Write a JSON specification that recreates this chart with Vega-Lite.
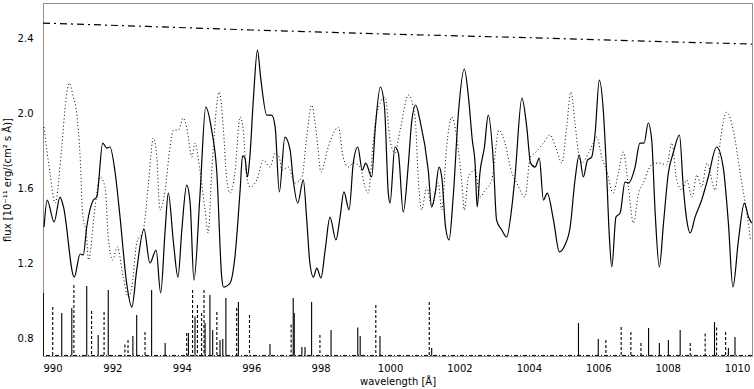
{
  "$schema": "https://vega.github.io/schema/vega-lite/v6.json",
  "width": 709,
  "height": 353,
  "autosize": {"type": "none"},
  "padding": {"left": 43, "top": 3, "right": 2, "bottom": 33},
  "background": "white",
  "config": {
    "view": {"stroke": "#222", "strokeWidth": 1, "strokeDash": [1, 1]},
    "font": "DejaVu Sans",
    "axis": {"domain": false, "ticks": false, "grid": false, "labelColor": "#000", "titleColor": "#000", "labelFontSize": 10, "titleFontSize": 10, "titleFontWeight": "normal"}
  },
  "datasets": {
    "obs": [
      {"x":990.03,"y":1.392},{"x":990.12,"y":1.536},{"x":990.32,"y":1.419},{"x":990.49,"y":1.552},{"x":990.59,"y":1.499},{"x":990.90,"y":1.125},{"x":991.07,"y":1.248},{"x":991.16,"y":1.243},{"x":991.26,"y":1.392},{"x":991.45,"y":1.536},{"x":991.55,"y":1.552},{"x":991.72,"y":1.840},{"x":991.84,"y":1.813},{"x":991.93,"y":1.819},{"x":992.08,"y":1.680},{"x":992.22,"y":1.445},{"x":992.41,"y":1.093},{"x":992.56,"y":0.965},{"x":992.70,"y":1.163},{"x":992.91,"y":1.381},{"x":993.08,"y":1.200},{"x":993.26,"y":1.269},{"x":993.39,"y":1.040},{"x":993.52,"y":1.376},{"x":993.61,"y":1.573},{"x":993.76,"y":1.307},{"x":993.89,"y":1.125},{"x":994.00,"y":1.376},{"x":994.14,"y":1.616},{"x":994.24,"y":1.520},{"x":994.35,"y":1.109},{"x":994.52,"y":1.552},{"x":994.69,"y":2.032},{"x":994.86,"y":1.909},{"x":995.01,"y":1.680},{"x":995.15,"y":1.125},{"x":995.20,"y":1.072},{"x":995.39,"y":1.093},{"x":995.53,"y":1.232},{"x":995.68,"y":1.589},{"x":995.75,"y":1.771},{"x":995.82,"y":1.760},{"x":995.89,"y":1.659},{"x":995.96,"y":1.765},{"x":996.06,"y":2.069},{"x":996.18,"y":2.336},{"x":996.27,"y":2.192},{"x":996.45,"y":1.989},{"x":996.59,"y":1.989},{"x":996.69,"y":1.925},{"x":996.81,"y":1.579},{"x":996.97,"y":1.872},{"x":997.12,"y":1.803},{"x":997.21,"y":1.643},{"x":997.34,"y":1.520},{"x":997.50,"y":1.643},{"x":997.60,"y":1.429},{"x":997.69,"y":1.200},{"x":997.79,"y":1.125},{"x":997.89,"y":1.173},{"x":998.01,"y":1.120},{"x":998.13,"y":1.269},{"x":998.27,"y":1.445},{"x":998.44,"y":1.323},{"x":998.56,"y":1.445},{"x":998.67,"y":1.579},{"x":998.82,"y":1.483},{"x":998.94,"y":1.733},{"x":999.07,"y":1.819},{"x":999.20,"y":1.696},{"x":999.30,"y":1.733},{"x":999.47,"y":1.659},{"x":999.57,"y":1.909},{"x":999.72,"y":2.139},{"x":999.84,"y":2.032},{"x":999.95,"y":1.573},{"x":1000.00,"y":1.520},{"x":1000.14,"y":1.819},{"x":1000.24,"y":1.787},{"x":1000.38,"y":1.472},{"x":1000.53,"y":1.733},{"x":1000.62,"y":1.947},{"x":1000.74,"y":2.043},{"x":1000.86,"y":1.963},{"x":1001.10,"y":1.696},{"x":1001.20,"y":1.499},{"x":1001.30,"y":1.573},{"x":1001.41,"y":1.712},{"x":1001.49,"y":1.659},{"x":1001.60,"y":1.392},{"x":1001.70,"y":1.323},{"x":1001.82,"y":1.552},{"x":1001.97,"y":2.000},{"x":1002.14,"y":2.235},{"x":1002.26,"y":2.085},{"x":1002.37,"y":1.856},{"x":1002.45,"y":1.733},{"x":1002.51,"y":1.499},{"x":1002.59,"y":1.680},{"x":1002.72,"y":1.819},{"x":1002.83,"y":1.989},{"x":1002.98,"y":1.733},{"x":1003.07,"y":1.429},{"x":1003.22,"y":1.376},{"x":1003.36,"y":1.339},{"x":1003.51,"y":1.499},{"x":1003.60,"y":1.659},{"x":1003.80,"y":2.080},{"x":1003.94,"y":1.925},{"x":1004.05,"y":1.733},{"x":1004.18,"y":1.712},{"x":1004.30,"y":1.760},{"x":1004.42,"y":1.536},{"x":1004.53,"y":1.573},{"x":1004.71,"y":1.429},{"x":1004.88,"y":1.259},{"x":1005.04,"y":1.296},{"x":1005.19,"y":1.392},{"x":1005.33,"y":1.643},{"x":1005.45,"y":1.776},{"x":1005.57,"y":1.659},{"x":1005.69,"y":1.749},{"x":1005.81,"y":1.765},{"x":1005.91,"y":1.893},{"x":1006.03,"y":2.176},{"x":1006.15,"y":2.000},{"x":1006.24,"y":1.680},{"x":1006.32,"y":1.339},{"x":1006.39,"y":1.179},{"x":1006.51,"y":1.445},{"x":1006.63,"y":1.467},{"x":1006.77,"y":1.632},{"x":1006.87,"y":1.627},{"x":1007.06,"y":1.712},{"x":1007.20,"y":1.840},{"x":1007.32,"y":1.840},{"x":1007.44,"y":1.947},{"x":1007.54,"y":1.856},{"x":1007.64,"y":1.467},{"x":1007.76,"y":1.179},{"x":1007.88,"y":1.413},{"x":1008.02,"y":1.680},{"x":1008.16,"y":1.787},{"x":1008.34,"y":1.883},{"x":1008.45,"y":1.605},{"x":1008.55,"y":1.429},{"x":1008.65,"y":1.360},{"x":1008.79,"y":1.445},{"x":1008.98,"y":1.536},{"x":1009.17,"y":1.659},{"x":1009.41,"y":1.819},{"x":1009.60,"y":1.712},{"x":1009.75,"y":1.413},{"x":1009.88,"y":1.072},{"x":1010.04,"y":1.323},{"x":1010.21,"y":1.520},{"x":1010.33,"y":1.445},{"x":1010.42,"y":1.413}
    ],
    "mod": [
      {"x":990.03,"y":1.925},{"x":990.20,"y":1.680},{"x":990.35,"y":1.520},{"x":990.54,"y":1.819},{"x":990.66,"y":2.069},{"x":990.76,"y":2.160},{"x":990.86,"y":2.096},{"x":990.97,"y":2.000},{"x":991.07,"y":1.765},{"x":991.14,"y":1.467},{"x":991.26,"y":1.339},{"x":991.31,"y":1.216},{"x":991.50,"y":1.499},{"x":991.64,"y":1.659},{"x":991.79,"y":1.605},{"x":991.88,"y":1.339},{"x":992.01,"y":1.216},{"x":992.14,"y":1.286},{"x":992.31,"y":1.125},{"x":992.46,"y":1.019},{"x":992.57,"y":1.083},{"x":992.70,"y":1.307},{"x":992.89,"y":1.376},{"x":993.04,"y":1.627},{"x":993.18,"y":1.867},{"x":993.28,"y":1.765},{"x":993.37,"y":1.483},{"x":993.52,"y":1.589},{"x":993.66,"y":1.819},{"x":993.76,"y":1.909},{"x":993.90,"y":1.909},{"x":994.04,"y":1.973},{"x":994.14,"y":1.925},{"x":994.29,"y":1.765},{"x":994.38,"y":1.840},{"x":994.52,"y":1.696},{"x":994.67,"y":1.483},{"x":994.76,"y":1.360},{"x":994.86,"y":1.680},{"x":995.08,"y":2.112},{"x":995.20,"y":1.909},{"x":995.29,"y":1.659},{"x":995.39,"y":1.573},{"x":995.53,"y":1.680},{"x":995.68,"y":1.979},{"x":995.77,"y":1.909},{"x":995.87,"y":1.659},{"x":995.97,"y":1.605},{"x":996.16,"y":1.643},{"x":996.35,"y":1.749},{"x":996.54,"y":1.712},{"x":996.69,"y":1.787},{"x":996.81,"y":1.765},{"x":996.88,"y":1.696},{"x":997.07,"y":1.712},{"x":997.26,"y":1.627},{"x":997.46,"y":1.659},{"x":997.60,"y":1.872},{"x":997.74,"y":2.043},{"x":997.89,"y":1.872},{"x":998.01,"y":1.685},{"x":998.22,"y":1.819},{"x":998.37,"y":1.893},{"x":998.51,"y":1.925},{"x":998.65,"y":1.765},{"x":998.80,"y":1.712},{"x":998.94,"y":1.733},{"x":999.14,"y":1.712},{"x":999.28,"y":1.605},{"x":999.37,"y":1.573},{"x":999.52,"y":1.856},{"x":999.62,"y":2.000},{"x":999.86,"y":2.085},{"x":1000.00,"y":1.856},{"x":1000.14,"y":1.787},{"x":1000.29,"y":1.909},{"x":1000.53,"y":2.096},{"x":1000.72,"y":1.979},{"x":1000.82,"y":1.627},{"x":1000.91,"y":1.483},{"x":1001.06,"y":1.605},{"x":1001.20,"y":1.499},{"x":1001.39,"y":1.627},{"x":1001.49,"y":1.483},{"x":1001.63,"y":1.819},{"x":1001.78,"y":1.979},{"x":1001.92,"y":1.872},{"x":1002.07,"y":1.627},{"x":1002.14,"y":1.483},{"x":1002.26,"y":1.659},{"x":1002.45,"y":1.696},{"x":1002.59,"y":1.552},{"x":1002.74,"y":1.589},{"x":1002.93,"y":1.643},{"x":1003.14,"y":1.909},{"x":1003.31,"y":1.840},{"x":1003.51,"y":1.680},{"x":1003.65,"y":1.627},{"x":1003.89,"y":1.552},{"x":1004.04,"y":1.765},{"x":1004.18,"y":1.787},{"x":1004.42,"y":1.840},{"x":1004.61,"y":1.883},{"x":1004.80,"y":1.803},{"x":1004.95,"y":1.733},{"x":1005.09,"y":1.925},{"x":1005.21,"y":2.112},{"x":1005.33,"y":1.947},{"x":1005.43,"y":1.787},{"x":1005.52,"y":1.733},{"x":1005.72,"y":1.787},{"x":1005.86,"y":1.840},{"x":1005.96,"y":1.872},{"x":1006.10,"y":1.765},{"x":1006.24,"y":1.696},{"x":1006.43,"y":1.573},{"x":1006.58,"y":1.680},{"x":1006.72,"y":1.792},{"x":1006.87,"y":1.605},{"x":1007.01,"y":1.413},{"x":1007.16,"y":1.573},{"x":1007.30,"y":1.627},{"x":1007.44,"y":1.696},{"x":1007.59,"y":1.733},{"x":1007.78,"y":1.733},{"x":1007.97,"y":1.723},{"x":1008.12,"y":1.840},{"x":1008.26,"y":1.643},{"x":1008.41,"y":1.589},{"x":1008.55,"y":1.643},{"x":1008.70,"y":1.552},{"x":1008.84,"y":1.670},{"x":1008.98,"y":1.605},{"x":1009.13,"y":1.733},{"x":1009.37,"y":1.589},{"x":1009.51,"y":1.840},{"x":1009.70,"y":2.005},{"x":1009.89,"y":1.909},{"x":1010.09,"y":1.680},{"x":1010.28,"y":1.467},{"x":1010.39,"y":1.323}
    ],
    "cont": [
      {"x":990.0,"y":2.480},{"x":993.0,"y":2.462},{"x":996.0,"y":2.443},{"x":1000.0,"y":2.421},{"x":1004.0,"y":2.402},{"x":1008.0,"y":2.380},{"x":1010.43,"y":2.368}
    ],
    "lines": [
      {"x":990.01,"y":1.040,"s":"solid"},{"x":990.54,"y":0.933,"s":"solid"},{"x":990.83,"y":0.960,"s":"solid"},{"x":991.26,"y":1.077,"s":"solid"},{"x":991.59,"y":0.816,"s":"solid"},{"x":991.88,"y":1.056,"s":"solid"},{"x":992.59,"y":0.811,"s":"solid"},{"x":992.70,"y":0.923,"s":"solid"},{"x":993.13,"y":1.056,"s":"solid"},{"x":993.52,"y":0.773,"s":"solid"},{"x":994.19,"y":0.827,"s":"solid"},{"x":994.38,"y":0.915,"s":"solid"},{"x":994.67,"y":0.880,"s":"solid"},{"x":994.81,"y":1.029,"s":"solid"},{"x":994.89,"y":0.843,"s":"solid"},{"x":995.10,"y":0.790,"s":"solid"},{"x":995.18,"y":0.795,"s":"solid"},{"x":995.27,"y":1.013,"s":"solid"},{"x":995.63,"y":0.992,"s":"solid"},{"x":996.54,"y":0.768,"s":"solid"},{"x":997.21,"y":1.013,"s":"solid"},{"x":997.24,"y":0.933,"s":"solid"},{"x":997.46,"y":0.752,"s":"solid"},{"x":997.55,"y":0.752,"s":"solid"},{"x":997.74,"y":0.992,"s":"solid"},{"x":998.30,"y":0.843,"s":"solid"},{"x":999.07,"y":0.856,"s":"solid"},{"x":999.14,"y":0.811,"s":"solid"},{"x":999.71,"y":0.811,"s":"solid"},{"x":1001.20,"y":0.747,"s":"solid"},{"x":1005.43,"y":0.880,"s":"solid"},{"x":1006.00,"y":0.795,"s":"solid"},{"x":1007.45,"y":0.853,"s":"solid"},{"x":1007.76,"y":0.773,"s":"solid"},{"x":1008.02,"y":0.790,"s":"solid"},{"x":1008.36,"y":0.843,"s":"solid"},{"x":1009.35,"y":0.885,"s":"solid"},{"x":1009.75,"y":0.747,"s":"solid"},{"x":1009.94,"y":0.806,"s":"solid"},
      {"x":990.28,"y":0.965,"s":"dashed"},{"x":990.89,"y":1.083,"s":"dashed"},{"x":991.40,"y":0.944,"s":"dashed"},{"x":991.76,"y":0.939,"s":"dashed"},{"x":992.36,"y":0.765,"s":"dashed"},{"x":992.45,"y":0.790,"s":"dashed"},{"x":992.94,"y":0.832,"s":"dashed"},{"x":994.14,"y":0.827,"s":"dashed"},{"x":994.31,"y":1.056,"s":"dashed"},{"x":994.45,"y":0.976,"s":"dashed"},{"x":994.57,"y":0.933,"s":"dashed"},{"x":994.64,"y":1.056,"s":"dashed"},{"x":995.01,"y":0.939,"s":"dashed"},{"x":995.58,"y":0.960,"s":"dashed"},{"x":995.95,"y":0.923,"s":"dashed"},{"x":997.15,"y":0.872,"s":"dashed"},{"x":997.98,"y":0.816,"s":"dashed"},{"x":999.59,"y":0.976,"s":"dashed"},{"x":1001.13,"y":0.992,"s":"dashed"},{"x":1006.22,"y":0.790,"s":"dashed"},{"x":1006.66,"y":0.859,"s":"dashed"},{"x":1006.94,"y":0.832,"s":"dashed"},{"x":1007.23,"y":0.773,"s":"dashed"},{"x":1008.65,"y":0.773,"s":"dashed"},{"x":1009.08,"y":0.824,"s":"dashed"},{"x":1009.41,"y":0.856,"s":"dashed"},{"x":1009.67,"y":0.832,"s":"dashed"}
    ],
    "base": [{"y": 0.707}]
  },
  "layer": [
    {
      "data": {"name": "lines"},
      "mark": {"type": "rule", "color": "#000", "strokeWidth": 1.1, "clip": true},
      "encoding": {
        "x": {"field": "x", "type": "quantitative", "scale": {"domain": [990, 1010.43], "nice": false, "zero": false},
              "axis": {"values": [990, 992, 994, 996, 998, 1000, 1002, 1004, 1006, 1008, 1010], "format": "d", "labelPadding": 7, "title": "wavelength [Å]", "titlePadding": 3}},
        "y": {"field": "y", "type": "quantitative", "scale": {"domain": [0.704, 2.587], "nice": false, "zero": false},
              "axis": {"values": [0.8, 1.2, 1.6, 2.0, 2.4], "format": ".1f", "labelPadding": 10, "title": "flux [10⁻¹¹ erg/(cm² s Å)]", "titlePadding": 5}},
        "y2": {"datum": 0.705},
        "strokeDash": {"field": "s", "type": "nominal", "scale": {"domain": ["solid", "dashed"], "range": [[1, 0], [3, 2]]}, "legend": null}
      }
    },
    {
      "data": {"name": "base"},
      "mark": {"type": "rule", "color": "#000", "strokeWidth": 1, "strokeDash": [4, 2, 1, 2], "clip": true},
      "encoding": {"y": {"field": "y", "type": "quantitative"}}
    },
    {
      "data": {"name": "mod"},
      "mark": {"type": "line", "color": "#000", "strokeWidth": 1, "strokeDash": [1, 2.5], "interpolate": "monotone", "clip": true},
      "encoding": {"x": {"field": "x", "type": "quantitative"}, "y": {"field": "y", "type": "quantitative"}}
    },
    {
      "data": {"name": "obs"},
      "mark": {"type": "line", "color": "#000", "strokeWidth": 1.2, "interpolate": "monotone", "clip": true},
      "encoding": {"x": {"field": "x", "type": "quantitative"}, "y": {"field": "y", "type": "quantitative"}}
    },
    {
      "data": {"name": "cont"},
      "mark": {"type": "line", "color": "#000", "strokeWidth": 1.2, "strokeDash": [7, 4, 2, 4], "clip": true},
      "encoding": {"x": {"field": "x", "type": "quantitative"}, "y": {"field": "y", "type": "quantitative"}}
    }
  ]
}
